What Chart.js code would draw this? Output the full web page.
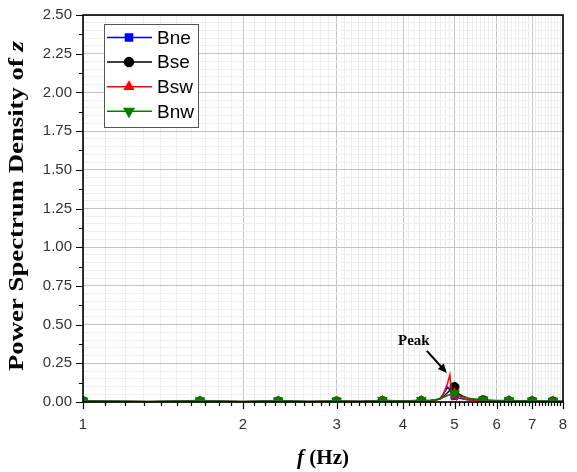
<!DOCTYPE html>
<html>
<head>
<meta charset="utf-8">
<script src="https://cdn.jsdelivr.net/npm/chart.js@4.4.1/dist/chart.umd.min.js"></script>
<style>
  html, body { margin: 0; padding: 0; background: #fff; }
  #wrap { width: 577px; height: 472px; position: relative; }
</style>
</head>
<body>
<div id="wrap"><canvas id="psd"></canvas></div>
<script>
// frequency axis (Hz)
const freq = [1.0, 1.33, 1.66, 2.0, 2.33, 2.66, 3.0, 3.33, 3.66, 4.0, 4.33, 4.5, 4.6, 4.7, 4.75, 4.8,
              4.85, 4.9, 4.95, 5.0, 5.05, 5.1, 5.2, 5.3, 5.45, 5.66, 6.0, 6.33, 6.66, 7.0, 7.33, 7.66, 8.0];

// power spectral density per sensor
const bne = [0.004, 0.002, 0.003, 0.002, 0.003, 0.002, 0.003, 0.003, 0.005, 0.004, 0.006, 0.008, 0.012, 0.025, 0.045, 0.07,
             0.095, 0.08, 0.05, 0.04, 0.03, 0.025, 0.02, 0.015, 0.012, 0.01, 0.006, 0.005, 0.004, 0.004, 0.003, 0.003, 0.002];
const bse = [0.005, 0.002, 0.004, 0.002, 0.004, 0.003, 0.004, 0.004, 0.006, 0.005, 0.007, 0.009, 0.013, 0.02, 0.03, 0.045,
             0.06, 0.075, 0.09, 0.097, 0.07, 0.05, 0.035, 0.025, 0.018, 0.012, 0.007, 0.006, 0.005, 0.005, 0.004, 0.004, 0.003];
const bsw = [0.006, 0.003, 0.008, 0.003, 0.008, 0.003, 0.006, 0.004, 0.01, 0.005, 0.01, 0.008, 0.01, 0.02, 0.04, 0.08,
             0.12, 0.175, 0.02, 0.06, 0.015, 0.04, 0.02, 0.015, 0.012, 0.012, 0.006, 0.01, 0.004, 0.008, 0.003, 0.007, 0.002];
const bnw = [0.008, 0.003, 0.009, 0.003, 0.009, 0.003, 0.008, 0.004, 0.012, 0.006, 0.012, 0.01, 0.015, 0.02, 0.028, 0.035,
             0.042, 0.048, 0.05, 0.055, 0.045, 0.04, 0.032, 0.025, 0.02, 0.015, 0.01, 0.01, 0.008, 0.008, 0.007, 0.007, 0.005];

// where symbols are drawn on the lines
const markerFreq = [1.0, 1.66, 2.33, 3.0, 3.66, 4.33, 5.0, 5.66, 6.33, 7.0, 7.66];

const seriesNames = ['Bne', 'Bse', 'Bsw', 'Bnw'];
const xMajor = [1, 2, 3, 4, 5, 6, 7, 8];
const yMajor = [0, 0.25, 0.5, 0.75, 1.0, 1.25, 1.5, 1.75, 2.0, 2.25, 2.5];
const peakLabel = 'Peak';
const peakFreq = 4.9;

// styles
const STYLES = [
    { color: '#0000ff', point: 'rect', radius: 5, rotation: 0, order: 4 },
    { color: '#000000', point: 'circle', radius: 4.5, rotation: 0, order: 3 },
    { color: '#ff0000', point: 'triangle', radius: 5, rotation: 0, order: 2 },
    { color: '#008000', point: 'triangle', radius: 5.5, rotation: 180, order: 1 }
];
const TICK_FONT = { family: 'Liberation Sans, Arial, sans-serif', size: 15 };
const markerSet = new Set(markerFreq);

const isMajorX = v => xMajor.some(m => Math.abs(m - v) < 1e-6);
const isMajorY = v => yMajor.some(m => Math.abs(m - v) < 1e-6);

function buildDataset(values, i) {
    const s = STYLES[i];
    return {
        label: seriesNames[i],
        data: values.map((v, k) => ({ x: freq[k], y: v })),
        borderColor: s.color,
        backgroundColor: s.color,
        borderWidth: 1.5,
        pointStyle: s.point,
        pointRotation: s.rotation,
        pointRadius: ctx => markerSet.has(freq[ctx.dataIndex]) ? s.radius : 0,
        pointBorderWidth: 1,
        tension: 0,
        order: s.order
    };
}

// tick marks, frame, titles, annotation
const decorPlugin = {
    id: 'decor',
    afterDraw(chart) {
        const { ctx, chartArea: a, scales: { x, y } } = chart;
        ctx.save();
        ctx.strokeStyle = '#000';
        ctx.lineWidth = 1.2;
        ctx.beginPath();
        x.ticks.forEach(t => {
            const px = Math.round(x.getPixelForValue(t.value)) + 0.5;
            const len = isMajorX(t.value) ? 7 : 4;
            ctx.moveTo(px, a.bottom);
            ctx.lineTo(px, a.bottom + len);
        });
        for (let i = 0; i < yMajor.length; i++) {
            let py = Math.round(y.getPixelForValue(yMajor[i])) + 0.5;
            ctx.moveTo(a.left, py);
            ctx.lineTo(a.left - 7, py);
            if (i < yMajor.length - 1) {
                py = Math.round(y.getPixelForValue((yMajor[i] + yMajor[i + 1]) / 2)) + 0.5;
                ctx.moveTo(a.left, py);
                ctx.lineTo(a.left - 4, py);
            }
        }
        ctx.stroke();
        ctx.lineWidth = 1.6;
        ctx.strokeRect(a.left, a.top, a.right - a.left, a.bottom - a.top);

        // y title
        ctx.fillStyle = '#000';
        ctx.textBaseline = 'alphabetic';
        const mainFont = 'bold 21px "Liberation Serif", "Times New Roman", serif';
        const italFont = 'italic bold 21px "Liberation Serif", "Times New Roman", serif';
        const part1 = 'Power Spectrum Density of ';
        const part2 = 'z';
        ctx.font = mainFont;
        const w1 = ctx.measureText(part1).width;
        ctx.font = italFont;
        const w2 = ctx.measureText(part2).width;
        const total = w1 + w2;
        ctx.save();
        ctx.translate(23, 206);
        ctx.rotate(-Math.PI / 2);
        ctx.scale(330 / total, 1);
        ctx.font = mainFont;
        ctx.fillText(part1, -total / 2, 0);
        ctx.font = italFont;
        ctx.fillText(part2, -total / 2 + w1, 0);
        ctx.restore();

        // x title
        const xf = 'f';
        const xr = ' (Hz)';
        ctx.font = italFont;
        const xw1 = ctx.measureText(xf).width;
        ctx.font = mainFont;
        const xw2 = ctx.measureText(xr).width;
        const xc = (a.left + a.right) / 2;
        ctx.font = italFont;
        ctx.fillText(xf, xc - (xw1 + xw2) / 2, 464);
        ctx.font = mainFont;
        ctx.fillText(xr, xc - (xw1 + xw2) / 2 + xw1, 464);

        // peak annotation
        const tipX = x.getPixelForValue(peakFreq) - 3;
        const tipY = y.getPixelForValue(Math.max(...bsw)) - 2;
        const tailX = tipX - 20, tailY = tipY - 22;
        ctx.strokeStyle = '#000';
        ctx.lineWidth = 2;
        ctx.beginPath();
        ctx.moveTo(tailX, tailY);
        ctx.lineTo(tipX - 4, tipY - 4.4);
        ctx.stroke();
        const ang = Math.atan2(tipY - tailY, tipX - tailX);
        ctx.beginPath();
        ctx.moveTo(tipX, tipY);
        ctx.lineTo(tipX - 9 * Math.cos(ang) + 4 * Math.sin(ang), tipY - 9 * Math.sin(ang) - 4 * Math.cos(ang));
        ctx.lineTo(tipX - 9 * Math.cos(ang) - 4 * Math.sin(ang), tipY - 9 * Math.sin(ang) + 4 * Math.cos(ang));
        ctx.closePath();
        ctx.fill();
        ctx.font = 'bold 15px "Liberation Serif", "Times New Roman", serif';
        ctx.textAlign = 'center';
        ctx.fillText(peakLabel, tailX - 13, tailY - 6);
        ctx.restore();
    }
};

// boxed legend inside plot
const legendPlugin = {
    id: 'boxLegend',
    afterDatasetsDraw(chart) {
        const { ctx, chartArea: a } = chart;
        const bx = a.left + 21, by = a.top + 9, bw = 94, bh = 103;
        ctx.save();
        ctx.fillStyle = '#fff';
        ctx.fillRect(bx, by, bw, bh);
        ctx.strokeStyle = '#555';
        ctx.lineWidth = 1;
        ctx.strokeRect(bx + 0.5, by + 0.5, bw, bh);
        ctx.font = '19px "Liberation Sans", Arial, sans-serif';
        ctx.textBaseline = 'middle';
        seriesNames.forEach((name, i) => {
            const s = STYLES[i];
            const cy = by + 13.5 + i * 24.6;
            ctx.strokeStyle = s.color;
            ctx.fillStyle = s.color;
            ctx.lineWidth = 1.5;
            ctx.beginPath();
            ctx.moveTo(bx + 3, cy);
            ctx.lineTo(bx + 48, cy);
            ctx.stroke();
            Chart.helpers.drawPoint(ctx, { pointStyle: s.point, rotation: s.rotation, radius: s.radius, borderWidth: 1 }, bx + 25, cy);
            ctx.fillStyle = '#000';
            ctx.fillText(name, bx + 53, cy + 1);
        });
        ctx.restore();
    }
};

function init() {
    const ctx = document.getElementById('psd').getContext('2d');
    new Chart(ctx, {
        type: 'line',
        data: { datasets: [bne, bse, bsw, bnw].map(buildDataset) },
        options: {
            responsive: true,
            maintainAspectRatio: false,
            animation: false,
            layout: { padding: { left: 0, right: 14, top: 15, bottom: 0 } },
            plugins: { legend: { display: false }, tooltip: { enabled: false } },
            scales: {
                x: {
                    type: 'logarithmic',
                    min: 1,
                    max: 8,
                    afterBuildTicks: scale => {
                        const list = [];
                        for (let i = 0; i < xMajor.length - 1; i++) {
                            for (let k = 0; k < 10; k++) list.push(+(xMajor[i] + k * (xMajor[i + 1] - xMajor[i]) / 10).toFixed(2));
                        }
                        list.push(xMajor[xMajor.length - 1]);
                        scale.ticks = list.map(v => ({ value: v, major: isMajorX(v) }));
                    },
                    afterFit: scale => {
                        scale.height = 70;
                        scale.paddingLeft = 0;
                        scale.paddingRight = 0;
                    },
                    ticks: {
                        autoSkip: false,
                        maxRotation: 0,
                        padding: 14,
                        color: '#333',
                        font: TICK_FONT,
                        callback: v => isMajorX(v) ? String(Math.round(v)) : ''
                    },
                    grid: {
                        drawTicks: false,
                        color: c => c.tick && isMajorX(c.tick.value) ? '#c4c4c4' : '#ececec',
                        lineWidth: 1
                    },
                    border: { display: false }
                },
                y: {
                    min: 0,
                    max: 2.5,
                    afterBuildTicks: scale => {
                        const list = [];
                        for (let i = 0; i < yMajor.length - 1; i++) {
                            for (let k = 0; k < 5; k++) list.push(+(yMajor[i] + k * 0.05).toFixed(3));
                        }
                        list.push(yMajor[yMajor.length - 1]);
                        scale.ticks = list.map(v => ({ value: v }));
                    },
                    afterFit: scale => {
                        scale.width = 83;
                        scale.paddingTop = 0;
                        scale.paddingBottom = 0;
                    },
                    ticks: {
                        autoSkip: false,
                        padding: 11,
                        color: '#333',
                        font: TICK_FONT,
                        callback: v => isMajorY(v) ? v.toFixed(2) : ''
                    },
                    grid: {
                        drawTicks: false,
                        color: c => c.tick && isMajorY(c.tick.value) ? '#c4c4c4' : '#efefef',
                        lineWidth: 1
                    },
                    border: { display: false }
                }
            }
        },
        plugins: [legendPlugin, decorPlugin]
    });
}

document.addEventListener('DOMContentLoaded', init);
</script>
</body>
</html>
